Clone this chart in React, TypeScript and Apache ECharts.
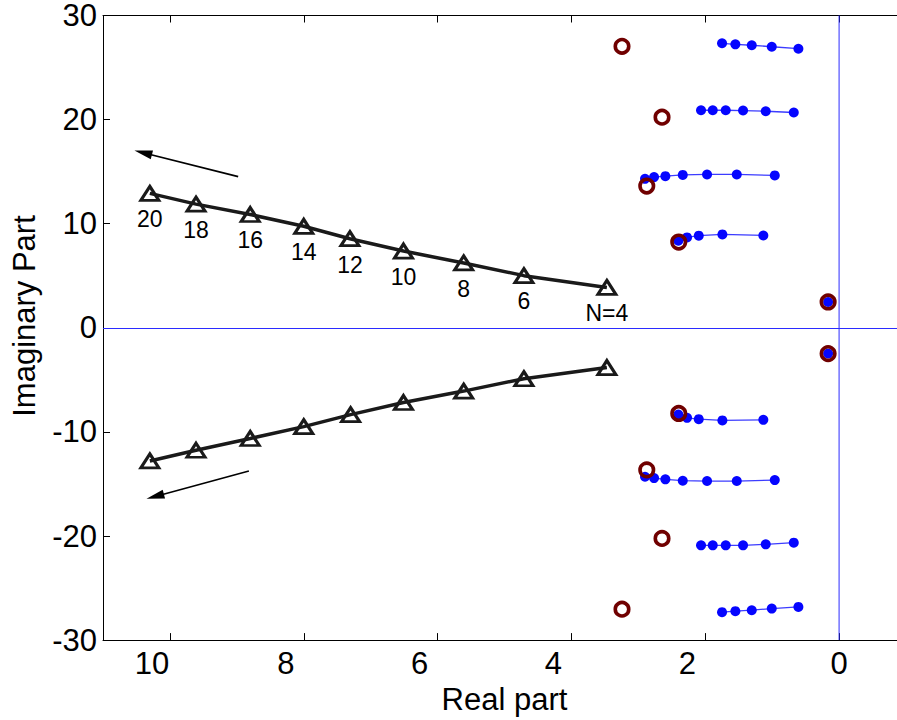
import React, { useEffect, useRef } from 'react';
import * as echarts from 'echarts';

const FONT = '"Liberation Sans", Arial, Helvetica, sans-serif';

// Triangle branch (N = 20 ... 4)
const triLabels = ['20', '18', '16', '14', '12', '10', '8', '6', 'N=4'];
const triReUpper = [10.30, 9.61, 8.80, 8.00, 7.31, 6.51, 5.61, 4.71, 3.47];
const triImUpper = [12.91, 11.88, 10.88, 9.75, 8.56, 7.37, 6.23, 5.01, 3.88];
const triReLower = [10.30, 9.61, 8.80, 8.00, 7.30, 6.51, 5.61, 4.71, 3.47];
const triImLower = [-12.79, -11.76, -10.63, -9.49, -8.34, -7.18, -6.08, -4.89, -3.82];

// Blue point branches (upper half)
const b1Re = [1.749, 1.550, 1.305, 1.006, 0.608];
const b1Im = [27.33, 27.23, 27.14, 27.00, 26.81];
const b2Re = [2.063, 1.888, 1.694, 1.435, 1.096, 0.677];
const b2Im = [20.90, 20.90, 20.90, 20.87, 20.80, 20.68];
const b3Re = [2.900, 2.765, 2.596, 2.336, 1.973, 1.529, 0.961];
const b3Im = [14.31, 14.48, 14.57, 14.69, 14.73, 14.73, 14.64];
const b4Re = [2.402, 2.272, 2.097, 1.744, 1.132];
const b4Im = [8.37, 8.68, 8.85, 8.97, 8.87];
const b5Re = [0.164];
const b5Im = [2.48];

// Blue point branches (lower half)
const c1Im = [-27.32, -27.22, -27.13, -26.97, -26.81];
const c2Im = [-20.90, -20.90, -20.90, -20.90, -20.80, -20.64];
const c3Im = [-14.31, -14.44, -14.56, -14.69, -14.72, -14.72, -14.63];
const c4Im = [-8.33, -8.65, -8.78, -8.90, -8.84];
const c5Im = [-2.48];

// Open circles
const circRe = [3.244, 2.646, 2.874, 2.396, 0.164, 0.164, 2.396, 2.874, 2.646, 3.244];
const circIm = [27.04, 20.23, 13.62, 8.24, 2.48, -2.48, -8.23, -13.65, -20.23, -27.03];

// Arrows [tail, head]
const arrowUpper = [[8.98, 14.52], [10.40, 16.82]];
const arrowLower = [[8.82, -13.75], [10.22, -16.20]];

// Reference lines (imaginary axis at Re = 0, real axis at Im = 0)
const refLineRe = [0];
const refLineIm = [0];
const imagAxisSpan = [-30, 30];

const zip = (a: number[], b: number[]) => a.map((v, i) => [v, b[i]]);

const blueSeries = (re: number[], im: number[], extra: any = {}) => ({
  type: 'line',
  data: zip(re, im),
  symbol: 'circle',
  symbolSize: 10,
  itemStyle: { color: '#0505ff', opacity: 1 },
  lineStyle: { color: '#3c3cff', width: 1.3 },
  silent: true,
  z: 2,
  ...extra,
});

export default function App() {
  const ref = useRef<HTMLDivElement>(null);
  useEffect(() => {
    document.body.style.overflow = 'hidden';
    if (!ref.current) return;
    const chart = echarts.init(ref.current, undefined, { renderer: 'svg' });
    const axisFmt = (v: number) => {
      if (v === 0) return '{z|0}';
      if (v < 0 || v > 10 || v % 2 !== 0) return '';
      return '{s|' + v + '}';
    };
    const triLine = {
      color: '#1a1a1a',
      width: 3.5,
    };
    const option: any = {
      animation: false,
      backgroundColor: '#ffffff',
      grid: { left: 103, right: 4, top: 13, bottom: 78 },
      xAxis: [
        {
          type: 'value',
          min: -1,
          max: 11,
          splitNumber: 6,
          inverse: true,
          position: 'bottom',
          axisLine: { show: true, onZero: false, lineStyle: { color: '#000', width: 1 } },
          axisTick: { show: true, inside: true, length: 7, lineStyle: { color: '#000', width: 1 } },
          axisLabel: {
            formatter: axisFmt,
            margin: 8,
            color: '#000',
            fontSize: 31,
            fontFamily: FONT,
            rich: {
              s: { fontSize: 31, fontFamily: FONT, color: '#000', padding: [0, 36, 0, 0] },
              z: { fontSize: 31, fontFamily: FONT, color: '#000' },
            },
          },
          splitLine: { show: false },
          name: 'Real part',
          nameLocation: 'middle',
          nameGap: 42,
          nameTextStyle: { fontSize: 31, fontFamily: FONT, color: '#000' },
        },
        {
          type: 'value',
          min: -1,
          max: 11,
          splitNumber: 6,
          inverse: true,
          position: 'top',
          axisLine: { show: true, onZero: false, lineStyle: { color: '#000', width: 1 } },
          axisTick: { show: true, inside: true, length: 7, lineStyle: { color: '#000', width: 1 } },
          axisLabel: { show: false },
          splitLine: { show: false },
        },
      ],
      yAxis: {
        type: 'value',
        min: -30,
        max: 30,
        interval: 10,
        axisLine: { show: true, onZero: false, lineStyle: { color: '#000', width: 1 } },
        axisTick: { show: true, inside: true, length: 7, lineStyle: { color: '#000', width: 1 } },
        axisLabel: { margin: 6, color: '#000', fontSize: 31, lineHeight: 24, fontFamily: FONT },
        splitLine: { show: false },
      },
      graphic: [
        {
          type: 'text',
          x: 24,
          y: 316,
          rotation: Math.PI / 2,
          style: {
            text: 'Imaginary Part',
            fontSize: 31,
            fontFamily: FONT,
            fill: '#000',
            align: 'center',
            verticalAlign: 'middle',
            textAlign: 'center',
            textVerticalAlign: 'middle',
          },
        },
      ],
      series: [
        {
          type: 'line',
          data: imagAxisSpan.map((v) => [refLineRe[0], v]),
          symbol: 'none',
          silent: true,
          z: 1,
          lineStyle: { color: '#2b2bff', width: 1 },
          markLine: {
            silent: true,
            symbol: ['none', 'none'],
            label: { show: false },
            lineStyle: { color: '#2b2bff', width: 1, type: 'solid', opacity: 1 },
            data: [{ yAxis: refLineIm[0] }],
          },
        },
        blueSeries(b1Re, b1Im),
        blueSeries(b2Re, b2Im),
        blueSeries(b3Re, b3Im),
        blueSeries(b4Re, b4Im),
        blueSeries(b5Re, b5Im),
        blueSeries(b1Re, c1Im),
        blueSeries(b2Re, c2Im),
        blueSeries(b3Re, c3Im),
        blueSeries(b4Re, c4Im),
        blueSeries(b5Re, c5Im),
        {
          type: 'scatter',
          data: zip(circRe, circIm),
          symbol: 'circle',
          symbolSize: 13.5,
          itemStyle: {
            color: 'rgba(0,0,0,0)',
            borderColor: '#700000',
            borderWidth: 3.6,
            opacity: 1,
          },
          silent: true,
          z: 3,
        },
        {
          type: 'line',
          data: zip(triReUpper, triImUpper),
          symbol: 'triangle',
          symbolSize: [18, 14],
          itemStyle: { color: 'rgba(255,255,255,0)', borderColor: '#1a1a1a', borderWidth: 3 },
          lineStyle: triLine,
          silent: true,
          z: 4,
          label: {
            show: true,
            position: 'bottom',
            distance: 6,
            formatter: (p: any) => triLabels[p.dataIndex],
            fontSize: 23,
            fontFamily: FONT,
            color: '#000',
          },
          markLine: {
            silent: true,
            symbol: ['none', 'triangle'],
            symbolSize: [9, 18],
            label: { show: false },
            lineStyle: { color: '#000', width: 1.6, type: 'solid' },
            itemStyle: { color: '#000' },
            data: [[{ coord: arrowUpper[0] }, { coord: arrowUpper[1] }]],
          },
        },
        {
          type: 'line',
          data: zip(triReLower, triImLower),
          symbol: 'triangle',
          symbolSize: [18, 14],
          itemStyle: { color: 'rgba(255,255,255,0)', borderColor: '#1a1a1a', borderWidth: 3 },
          lineStyle: triLine,
          silent: true,
          z: 4,
          markLine: {
            silent: true,
            symbol: ['none', 'triangle'],
            symbolSize: [9, 18],
            label: { show: false },
            lineStyle: { color: '#000', width: 1.6, type: 'solid' },
            itemStyle: { color: '#000' },
            data: [[{ coord: arrowLower[0] }, { coord: arrowLower[1] }]],
          },
        },
      ],
    };
    chart.setOption(option);
    return () => chart.dispose();
  }, []);
  return (
    <div
      ref={ref}
      style={{ position: 'fixed', left: 0, top: 0, width: 910, height: 720, background: '#fff' }}
    />
  );
}
